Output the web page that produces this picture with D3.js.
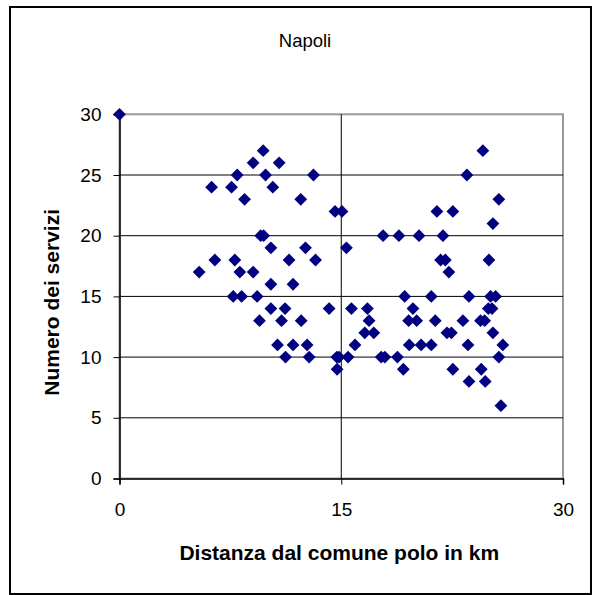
<!DOCTYPE html>
<html><head><meta charset="utf-8">
<script src="https://cdn.jsdelivr.net/npm/d3@7"></script>
<style>body{margin:0;background:#fff}svg{display:block}text{font-family:Arial,"Liberation Sans",sans-serif}</style>
</head><body>
<script>
const title = "Napoli";
const xLabel = "Distanza dal comune polo in km";
const yLabel = "Numero dei servizi";
const xTicks = [0, 15, 30];
const yTicks = [0, 5, 10, 15, 20, 25, 30];
// distance (km) and number of services
const distanza = [
  0,
  9.72, 24.58,
  9.04, 10.8,
  7.96, 9.88, 13.12, 23.5,
  6.23, 7.58, 10.37,
  8.46, 12.26, 25.66,
  14.58, 15.05, 21.47, 22.55,
  25.26,
  9.55, 9.75, 17.83, 18.9, 20.26, 21.88,
  10.24, 12.58, 15.35,
  6.45, 7.8, 11.47, 13.26, 21.72, 22.04, 24.99,
  5.39, 8.14, 9.04, 22.28,
  10.24, 11.74,
  7.69, 8.26, 9.31, 19.29, 21.09, 23.64, 25.1, 25.44,
  10.24, 11.2, 14.18, 15.69, 16.77, 19.85, 24.95, 25.2,
  9.47, 10.96, 12.29, 16.88, 19.56, 20.1, 21.36, 23.23, 24.42, 24.7,
  16.59, 17.2, 22.15, 22.45, 25.26,
  10.69, 11.74, 12.69, 15.93, 19.6, 20.4, 21.09, 23.57, 25.93,
  11.23, 12.83, 14.7, 14.85, 15.46, 17.7, 17.95, 18.8, 25.66,
  14.72, 19.2, 22.55, 24.47,
  23.64, 24.74,
  25.8
];
const servizi = [
  30,
  27, 27,
  26, 26,
  25, 25, 25, 25,
  24, 24, 24,
  23, 23, 23,
  22, 22, 22, 22,
  21,
  20, 20, 20, 20, 20, 20,
  19, 19, 19,
  18, 18, 18, 18, 18, 18, 18,
  17, 17, 17, 17,
  16, 16,
  15, 15, 15, 15, 15, 15, 15, 15,
  14, 14, 14, 14, 14, 14, 14, 14,
  13, 13, 13, 13, 13, 13, 13, 13, 13, 13,
  12, 12, 12, 12, 12,
  11, 11, 11, 11, 11, 11, 11, 11, 11,
  10, 10, 10, 10, 10, 10, 10, 10, 10,
  9, 9, 9, 9,
  8, 8,
  6
];

const W = 598, H = 595;
const svg = d3.select("body").append("svg").attr("width", W).attr("height", H);

// outer chart frame
svg.append("rect").attr("x", 10).attr("y", 7).attr("width", 581).attr("height", 587)
  .attr("fill", "#fff").attr("stroke", "#000").attr("stroke-width", 2);

const L = 119.5, R = 563, T = 114.3, B = 478.5;
const x = d3.scaleLinear().domain([0, 30]).range([L, R]);
const y = d3.scaleLinear().domain([0, 30]).range([B, T]);

// plot area border
svg.append("rect").attr("x", L).attr("y", T).attr("width", R - L).attr("height", B - T)
  .attr("fill", "#fff").attr("stroke", "#9a9a9a").attr("stroke-width", 2);

// gridlines
svg.append("g").selectAll("line").data(yTicks.filter(d => d > 0 && d < 30)).join("line")
  .attr("x1", L).attr("x2", R).attr("y1", d => y(d)).attr("y2", d => y(d))
  .attr("stroke", "#000").attr("stroke-width", 1);
svg.append("g").selectAll("line").data([15]).join("line")
  .attr("x1", d => x(d)).attr("x2", d => x(d)).attr("y1", T).attr("y2", B)
  .attr("stroke", "#000").attr("stroke-width", 1);

// axes
const xAxis = svg.append("g").attr("transform", `translate(0,${B})`)
  .call(d3.axisBottom(x).tickValues(xTicks).tickSize(6).tickPadding(18).tickFormat(d3.format("d")));
const yAxis = svg.append("g").attr("transform", `translate(${L},0)`)
  .call(d3.axisLeft(y).tickValues(yTicks).tickSize(6).tickPadding(12).tickFormat(d3.format("d")));
[xAxis, yAxis].forEach(a => {
  a.select(".domain").attr("stroke", "#000").attr("stroke-width", 1.5);
  a.selectAll(".tick line").attr("stroke", "#000");
  a.selectAll(".tick text").attr("font-size", 19).attr("fill", "#000")
    .attr("font-family", "Arial, 'Liberation Sans', sans-serif");
});

// points
const pts = distanza.map((d, i) => ({ x: d, y: servizi[i] }));
const sym = d3.symbol().type(d3.symbolSquare).size(82);
svg.append("g").selectAll("path").data(pts).join("path")
  .attr("d", sym)
  .attr("transform", d => `translate(${x(d.x)},${y(d.y)}) rotate(45)`)
  .attr("fill", "#000080");

// titles
svg.append("text").attr("x", 305).attr("y", 47).attr("text-anchor", "middle")
  .attr("font-size", 18.5).text(title);
svg.append("text").attr("x", (L + R) / 2 - 2).attr("y", 560).attr("text-anchor", "middle")
  .attr("font-size", 21).attr("font-weight", "bold").text(xLabel);
svg.append("text").attr("transform", `translate(59,${(T + B) / 2 + 6}) rotate(-90)`)
  .attr("text-anchor", "middle").attr("font-size", 21).attr("font-weight", "bold").text(yLabel);
</script>
</body></html>
